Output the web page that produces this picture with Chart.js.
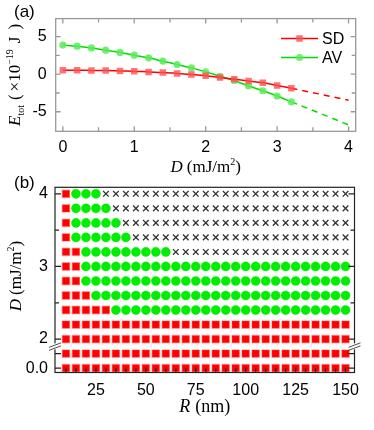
<!DOCTYPE html>
<html>
<head>
<meta charset="utf-8">
<script src="https://cdn.jsdelivr.net/npm/chart.js@4.4.1/dist/chart.umd.min.js"></script>
<style>
  html, body { margin: 0; padding: 0; background: #fff; }
  #wrapA { position: absolute; left: 0; top: 0; width: 374px; height: 185px; }
  #wrapB { position: absolute; left: 0; top: 170px; width: 374px; height: 260px; }
</style>
</head>
<body>
<div id="wrapA"><canvas id="chartA" width="374" height="185"></canvas></div>
<div id="wrapB"><canvas id="chartB" width="374" height="260"></canvas></div>
<script>
// (a) total energy vs D, in 1e-19 J
const dA  = [0, 0.2, 0.4, 0.6, 0.8, 1.0, 1.2, 1.4, 1.6, 1.8, 2.0, 2.2, 2.4, 2.6, 2.8, 3.0, 3.2];
const sdA = [0.53, 0.53, 0.5, 0.48, 0.44, 0.4, 0.3, 0.22, 0.1, -0.04, -0.2, -0.44, -0.67, -0.9, -1.15, -1.5, -1.87];
const avA = [3.87, 3.73, 3.5, 3.2, 2.9, 2.53, 2.18, 1.73, 1.29, 0.84, 0.31, -0.27, -0.84, -1.56, -2.2, -2.9, -3.69];
// dashed extrapolation
const dExt  = [3.2, 3.6, 4.0];
const sdExt = [-1.87, -2.65, -3.47];
const avExt = [-3.69, -5.2, -6.75];
const aXMajor = [0, 1, 2, 3, 4];
const aXMinor = [0.5, 1.5, 2.5, 3.5];
const aYMajor = [-5, 0, 5];
const aYMinor = [-2.5, 2.5];

// (b) phase diagram: R (nm) columns, D (mJ/m^2) rows
const rB = [10, 15, 20, 25, 30, 35, 40, 45, 50, 55, 60, 65, 70, 75, 80, 85, 90, 95, 100,
            105, 110, 115, 120, 125, 130, 135, 140, 145, 150];
const dB     = [4.0, 3.8, 3.6, 3.4, 3.2, 3.0, 2.8, 2.6, 2.4, 2.2, 2.0, 1.0, 0.0];
const sdUpTo = [10, 10, 10, 10, 15, 15, 15, 20, 30, 150, 150, 150, 150];
const avUpTo = [25, 30, 35, 40, 60, 150, 150, 150, 150, 0, 0, 0, 0];
const bXLabels = [25, 50, 75, 100, 125, 150];
const bYMajor = [0.0, 1.0, 2, 3, 4];
const bYMinor = [2.5, 3.5];
const bYLabels = ['0.0', '', '2', '3', '4'];

Chart.defaults.font.family = 'Liberation Sans, Arial, sans-serif';
Chart.defaults.font.size = 16;
Chart.defaults.color = '#000';

// broken axis: below D = 2 the rows are squeezed in
function yPos(d) { return d >= 2 ? d : 1.6 + 0.2 * d; }

function richText(ctx, pieces, x, y, rotate) {
  ctx.save();
  ctx.translate(x, y);
  if (rotate) ctx.rotate(-Math.PI / 2);
  let total = 0;
  pieces.forEach(p => { ctx.font = p.f; p.w = ctx.measureText(p.t).width; total += p.w + (p.gap || 0); });
  let cx = -total / 2;
  ctx.fillStyle = '#000';
  ctx.textBaseline = 'alphabetic';
  pieces.forEach(p => { ctx.font = p.f; ctx.fillText(p.t, cx, p.dy || 0); cx += p.w + (p.gap || 0); });
  ctx.restore();
}

const frameTicks = {
  id: 'frameTicks',
  afterDatasetsDraw(chart, args, o) {
    const { ctx, chartArea: a, scales: { x, y } } = chart;
    ctx.save();
    ctx.strokeStyle = o.color;
    ctx.lineWidth = o.width;
    ctx.strokeRect(a.left, a.top, a.right - a.left, a.bottom - a.top);
    ctx.beginPath();
    o.x.forEach(([vals, len]) => vals.forEach(v => {
      const px = x.getPixelForValue(v);
      ctx.moveTo(px, a.bottom); ctx.lineTo(px, a.bottom - len);
      if (o.top) { ctx.moveTo(px, a.top); ctx.lineTo(px, a.top + len); }
    }));
    o.y.forEach(([vals, len]) => vals.forEach(v => {
      const py = y.getPixelForValue(o.map ? o.map(v) : v);
      ctx.moveTo(a.left, py); ctx.lineTo(a.left + len, py);
      ctx.moveTo(a.right, py); ctx.lineTo(a.right - len, py);
    }));
    ctx.stroke();
    if (o.brk) {
      const py = (y.getPixelForValue(yPos(2)) + y.getPixelForValue(yPos(1))) / 2;
      [a.left, a.right].forEach(ax => {
        ctx.fillStyle = '#fff';
        ctx.fillRect(ax - 2, py - 3, 4, 6);
        ctx.beginPath();
        ctx.lineWidth = 0.8;
        ctx.moveTo(ax - 6, py + 1); ctx.lineTo(ax + 6, py - 3.5);
        ctx.moveTo(ax - 6, py + 4); ctx.lineTo(ax + 6, py - 0.5);
        ctx.stroke();
      });
    }
    ctx.restore();
  }
};

const decorA = {
  id: 'decorA',
  afterDraw(chart) {
    const ctx = chart.ctx;
    const a = chart.chartArea;
    const serif = 'Liberation Serif, Times New Roman, serif';
    ctx.save();
    ctx.fillStyle = '#000';
    ctx.font = '17px Liberation Sans, Arial';
    ctx.textBaseline = 'middle';
    ctx.fillText('(a)', 14, 12);
    // legend
    const items = [['SD', 'rgb(255,0,0)', 'rgba(255,80,80,0.8)', 'rect', 38.5],
                   ['AV', 'rgb(0,220,0)', 'rgba(90,235,90,0.85)', 'circle', 57.5]];
    items.forEach(([label, line, fill, style, ly]) => {
      ctx.strokeStyle = line; ctx.lineWidth = 1.5;
      ctx.beginPath(); ctx.moveTo(281, ly); ctx.lineTo(318, ly); ctx.stroke();
      ctx.fillStyle = fill;
      Chart.helpers.drawPoint(ctx, { pointStyle: style, radius: style === 'rect' ? 4.6 : 3.6, borderWidth: 0 }, 299.5, ly);
      ctx.fillStyle = '#000';
      ctx.font = '16px Liberation Sans, Arial';
      ctx.fillText(label, 322, ly + 1);
    });
    ctx.restore();
    richText(ctx, [
      { t: 'D', f: 'italic 17px ' + serif, gap: 4 },
      { t: '(mJ/m', f: '17px ' + serif },
      { t: '2', f: '10px ' + serif, dy: -7 },
      { t: ')', f: '17px ' + serif }
    ], (a.left + a.right) / 2, 172, false);
    richText(ctx, [
      { t: 'E', f: 'italic 17px ' + serif },
      { t: 'tot', f: '10px ' + serif, dy: 4, gap: 5 },
      { t: '(', f: '17px ' + serif, gap: 3 },
      { t: '×10', f: '17px ' + serif },
      { t: '−19', f: '10px ' + serif, dy: -7, gap: 6 },
      { t: 'J', f: '17px ' + serif, gap: 7 },
      { t: ')', f: '17px ' + serif }
    ], 20, (a.top + a.bottom) / 2, true);
  }
};

const decorB = {
  id: 'decorB',
  afterDraw(chart) {
    const ctx = chart.ctx;
    const a = chart.chartArea;
    const serif = 'Liberation Serif, Times New Roman, serif';
    ctx.save();
    ctx.fillStyle = '#000';
    ctx.font = '17px Liberation Sans, Arial';
    ctx.textBaseline = 'middle';
    ctx.fillText('(b)', 14, 13);
    ctx.restore();
    richText(ctx, [
      { t: 'R', f: 'italic 18px ' + serif, gap: 5 },
      { t: '(nm)', f: '18px ' + serif }
    ], (a.left + a.right) / 2, 242, false);
    richText(ctx, [
      { t: 'D', f: 'italic 17px ' + serif, gap: 4 },
      { t: '(mJ/m', f: '17px ' + serif },
      { t: '2', f: '10px ' + serif, dy: -7 },
      { t: ')', f: '17px ' + serif }
    ], 21, 106, true);
  }
};

const toXY = (xs, ys) => xs.map((v, i) => ({ x: v, y: ys[i] }));

new Chart(document.getElementById('chartA'), {
  type: 'line',
  data: {
    datasets: [
      { label: 'SD', data: toXY(dA, sdA), borderColor: 'rgb(255,0,0)', borderWidth: 1.5,
        cubicInterpolationMode: 'monotone', pointStyle: 'rect', pointRadius: 4.6,
        pointBackgroundColor: 'rgba(255,80,80,0.8)', pointBorderWidth: 0 },
      { label: 'AV', data: toXY(dA, avA), borderColor: 'rgb(0,220,0)', borderWidth: 1.5,
        cubicInterpolationMode: 'monotone', pointStyle: 'circle', pointRadius: 3.6,
        pointBackgroundColor: 'rgba(90,235,90,0.85)', pointBorderWidth: 0 },
      { label: 'SD ext', data: toXY(dExt, sdExt), borderColor: 'rgb(255,0,0)', borderWidth: 1.5,
        borderDash: [6, 5], cubicInterpolationMode: 'monotone', pointRadius: 0 },
      { label: 'AV ext', data: toXY(dExt, avExt), borderColor: 'rgb(0,220,0)', borderWidth: 1.5,
        borderDash: [6, 5], cubicInterpolationMode: 'monotone', pointRadius: 0 }
    ]
  },
  options: {
    responsive: false,
    animation: false,
    layout: { padding: { left: 0, right: 18.3, top: 18.3, bottom: 0 } },
    plugins: {
      legend: { display: false },
      tooltip: { enabled: false },
      frameTicks: { color: '#999', width: 1.3, top: true,
        x: [[aXMajor, 5], [aXMinor, 4]], y: [[aYMajor, 5], [aYMinor, 4]] }
    },
    scales: {
      x: {
        type: 'linear', min: -0.1, max: 4.1,
        afterBuildTicks: s => { s.ticks = aXMajor.map(v => ({ value: v })); },
        afterFit: s => { s.height = 53.7; },
        grid: { display: false, drawTicks: false },
        border: { display: false },
        ticks: { padding: 7, maxRotation: 0 }
      },
      y: {
        min: -7.6, max: 7.4,
        afterBuildTicks: s => { s.ticks = aYMajor.map(v => ({ value: v })); },
        afterFit: s => { s.width = 55.7; },
        grid: { display: false, drawTicks: false },
        border: { display: false },
        ticks: { padding: 9 }
      }
    }
  },
  plugins: [frameTicks, decorA]
});

const sdPts = [], avPts = [], nonePts = [];
dB.forEach((d, i) => rB.forEach(r => {
  const p = { x: r, y: yPos(d) };
  if (r <= sdUpTo[i]) sdPts.push(p);
  else if (r <= avUpTo[i]) avPts.push(p);
  else nonePts.push(p);
}));

new Chart(document.getElementById('chartB'), {
  type: 'scatter',
  data: {
    datasets: [
      { label: 'SD', data: sdPts, pointStyle: 'rect', pointRadius: 5.2,
        pointBackgroundColor: '#ff0000', pointBorderColor: 'rgba(255,60,60,0.35)', pointBorderWidth: 1.5 },
      { label: 'AV', data: avPts, pointStyle: 'circle', pointRadius: 4.6,
        pointBackgroundColor: '#00ee00', pointBorderColor: 'rgba(0,230,0,0.35)', pointBorderWidth: 1 },
      { label: 'none', data: nonePts, pointStyle: 'crossRot', pointRadius: 4,
        pointBorderColor: '#333', pointBorderWidth: 1.3 }
    ]
  },
  options: {
    responsive: false,
    animation: false,
    layout: { padding: { left: 0, right: 19.5, top: 17.3, bottom: 0 } },
    plugins: {
      legend: { display: false },
      tooltip: { enabled: false },
      frameTicks: { color: '#222', width: 1.2, top: false, map: yPos, brk: true,
        x: [[bXLabels, 5], [rB, 4]], y: [[bYMajor, 6], [bYMinor, 4]] }
    },
    scales: {
      x: {
        type: 'linear', min: 4.5, max: 154.5,
        afterBuildTicks: s => { s.ticks = bXLabels.map(v => ({ value: v })); },
        afterFit: s => { s.height = 57.5; },
        grid: { display: false, drawTicks: false },
        border: { display: false },
        ticks: { padding: 8, maxRotation: 0 }
      },
      y: {
        type: 'linear', min: 1.54, max: 4.09,
        afterBuildTicks: s => { s.ticks = bYMajor.map(v => ({ value: yPos(v) })); },
        afterFit: s => { s.width = 55; },
        grid: { display: false, drawTicks: false },
        border: { display: false },
        ticks: { padding: 7, callback: (v, i) => bYLabels[i] }
      }
    }
  },
  plugins: [frameTicks, decorB]
});
</script>
</body>
</html>
